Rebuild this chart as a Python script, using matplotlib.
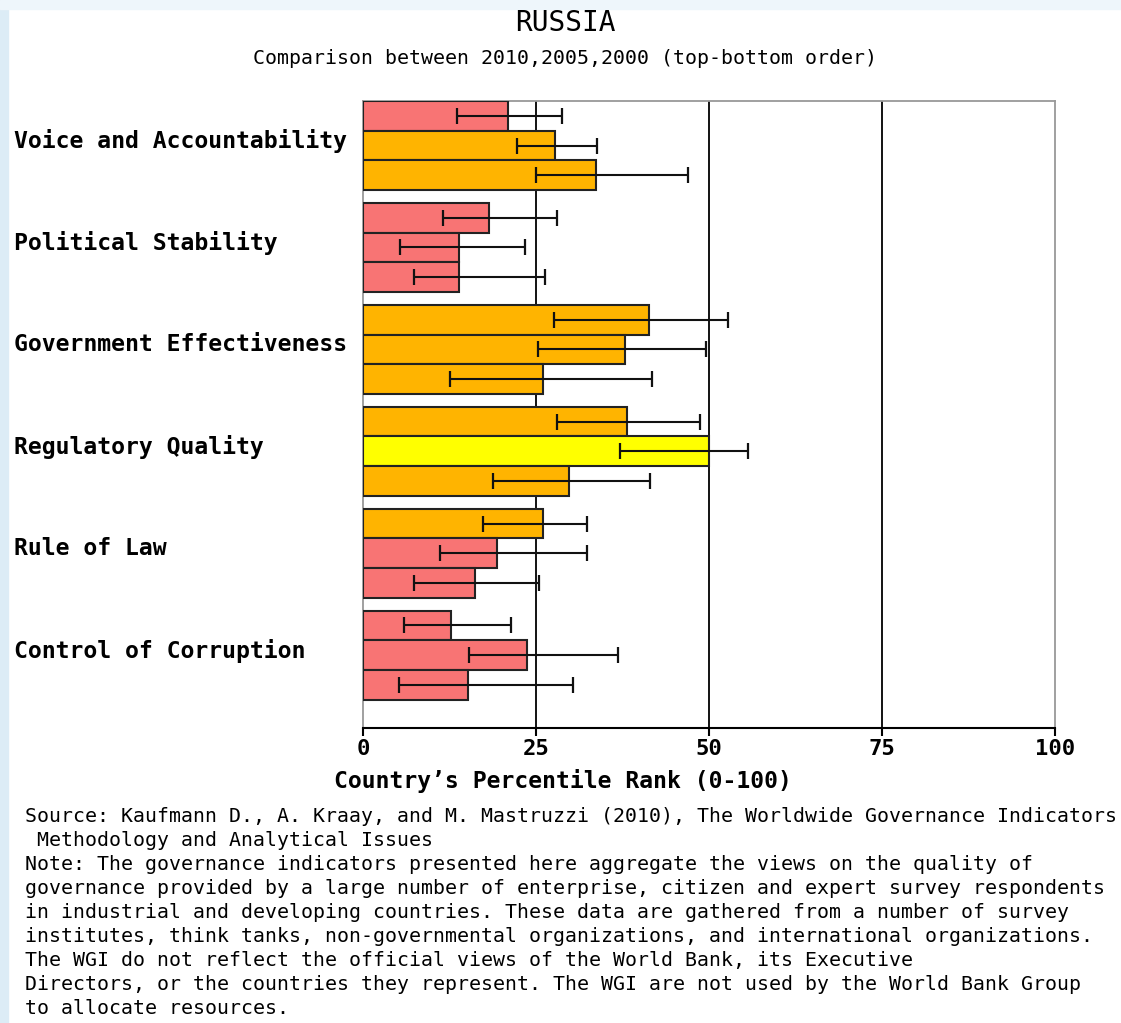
import matplotlib
matplotlib.use('Agg')
import matplotlib.pyplot as plt
import matplotlib.transforms as mtransforms
from matplotlib.patches import Rectangle

indicators = ['Voice and Accountability', 'Political Stability', 'Government Effectiveness',
              'Regulatory Quality', 'Rule of Law', 'Control of Corruption']
years = [2010, 2005, 2000]

# percentile rank per indicator, order 2010, 2005, 2000
rank = [[21.0, 27.7, 33.6],
        [18.2, 13.9, 13.9],
        [41.3, 37.9, 26.0],
        [38.2, 50.0, 29.8],
        [26.0, 19.4, 16.2],
        [12.7, 23.7, 15.2]]
low = [[13.6, 22.3, 25.0],
       [11.6, 5.3, 7.4],
       [27.6, 25.3, 12.6],
       [28.0, 37.1, 18.8],
       [17.3, 11.1, 7.4],
       [5.9, 15.3, 5.2]]
high = [[28.8, 33.8, 47.0],
        [28.0, 23.4, 26.3],
        [52.7, 49.6, 41.8],
        [48.7, 55.6, 41.5],
        [32.4, 32.4, 25.4],
        [21.4, 36.8, 30.3]]

x_ticks = [0, 25, 50, 75, 100]

footer = ['Source: Kaufmann D., A. Kraay, and M. Mastruzzi (2010), The Worldwide Governance Indicators',
          ' Methodology and Analytical Issues',
          'Note: The governance indicators presented here aggregate the views on the quality of',
          'governance provided by a large number of enterprise, citizen and expert survey respondents',
          'in industrial and developing countries. These data are gathered from a number of survey',
          'institutes, think tanks, non-governmental organizations, and international organizations.',
          'The WGI do not reflect the official views of the World Bank, its Executive',
          'Directors, or the countries they represent. The WGI are not used by the World Bank Group',
          'to allocate resources.']


def rank_color(v):
    if v < 10:
        return '#E03030'
    elif v < 25:
        return '#F87474'
    elif v < 50:
        return '#FFB400'
    elif v < 75:
        return '#FFFF00'
    elif v < 90:
        return '#99DD44'
    return '#33AA33'


mono = 'DejaVu Sans Mono'
W, H = 1121, 1023
fig = plt.figure(figsize=(W / 100, H / 100), dpi=100)
fig.patch.set_facecolor('white')

# light slide background on the edges
fig.add_artist(Rectangle((0, 0), 8 / W, 1, transform=fig.transFigure, color='#dcecf6', zorder=0))
fig.add_artist(Rectangle((0, 1 - 9 / H), 1, 9 / H, transform=fig.transFigure, color='#eef6fb', zorder=0))

ax = fig.add_axes([363 / W, 1 - 728 / H, 692 / W, 627 / H])

step = 3.43
for i, name in enumerate(indicators):
    for j in range(len(years)):
        y = 0.5 + step * i + j
        v = rank[i][j]
        ax.barh(y, v, height=1.0, color=rank_color(v), edgecolor='#222222', linewidth=1.5, zorder=3)
        ax.errorbar(v, y, xerr=[[v - low[i][j]], [high[i][j] - v]], fmt='none',
                    ecolor='#111111', elinewidth=1.5, capsize=5.5, capthick=1.6, zorder=4)

ax.set_xlim(0, 100)
ax.set_ylim(21.1, 0)
for g in [25, 50, 75]:
    ax.axvline(g, color='black', linewidth=1.3, zorder=1)

for side in ['top', 'right', 'left']:
    ax.spines[side].set_color('#999999')
    ax.spines[side].set_linewidth(1.3)
ax.spines['bottom'].set_color('black')
ax.spines['bottom'].set_linewidth(1.5)

ax.set_yticks([])
ax.set_xticks(x_ticks)
ax.set_xticklabels([str(t) for t in x_ticks], fontfamily=mono, fontweight='bold', fontsize=16)
ax.tick_params(axis='x', length=6, width=1.5, direction='out', pad=2)

trans = mtransforms.blended_transform_factory(fig.transFigure, ax.transData)
for i, name in enumerate(indicators):
    ax.text(14 / W, step * i + 1.35, name, transform=trans, ha='left', va='center',
            fontfamily=mono, fontweight='bold', fontsize=16.7)

fig.text(565 / W, 1 - 23 / H, 'RUSSIA', ha='center', va='center', fontfamily=mono, fontsize=20)
fig.text(565 / W, 1 - 59 / H, 'Comparison between 2010,2005,2000 (top-bottom order)',
         ha='center', va='center', fontfamily=mono, fontsize=14.3)
fig.text(563 / W, 1 - 781 / H, 'Country\u2019s Percentile Rank (0-100)', ha='center', va='center',
         fontfamily=mono, fontweight='bold', fontsize=16.6)

for k, line in enumerate(footer):
    fig.text(25 / W, 1 - (817 + 23.9 * k) / H, line, ha='left', va='center',
             fontfamily=mono, fontsize=14.3)

fig.savefig('out.png', dpi=100)
